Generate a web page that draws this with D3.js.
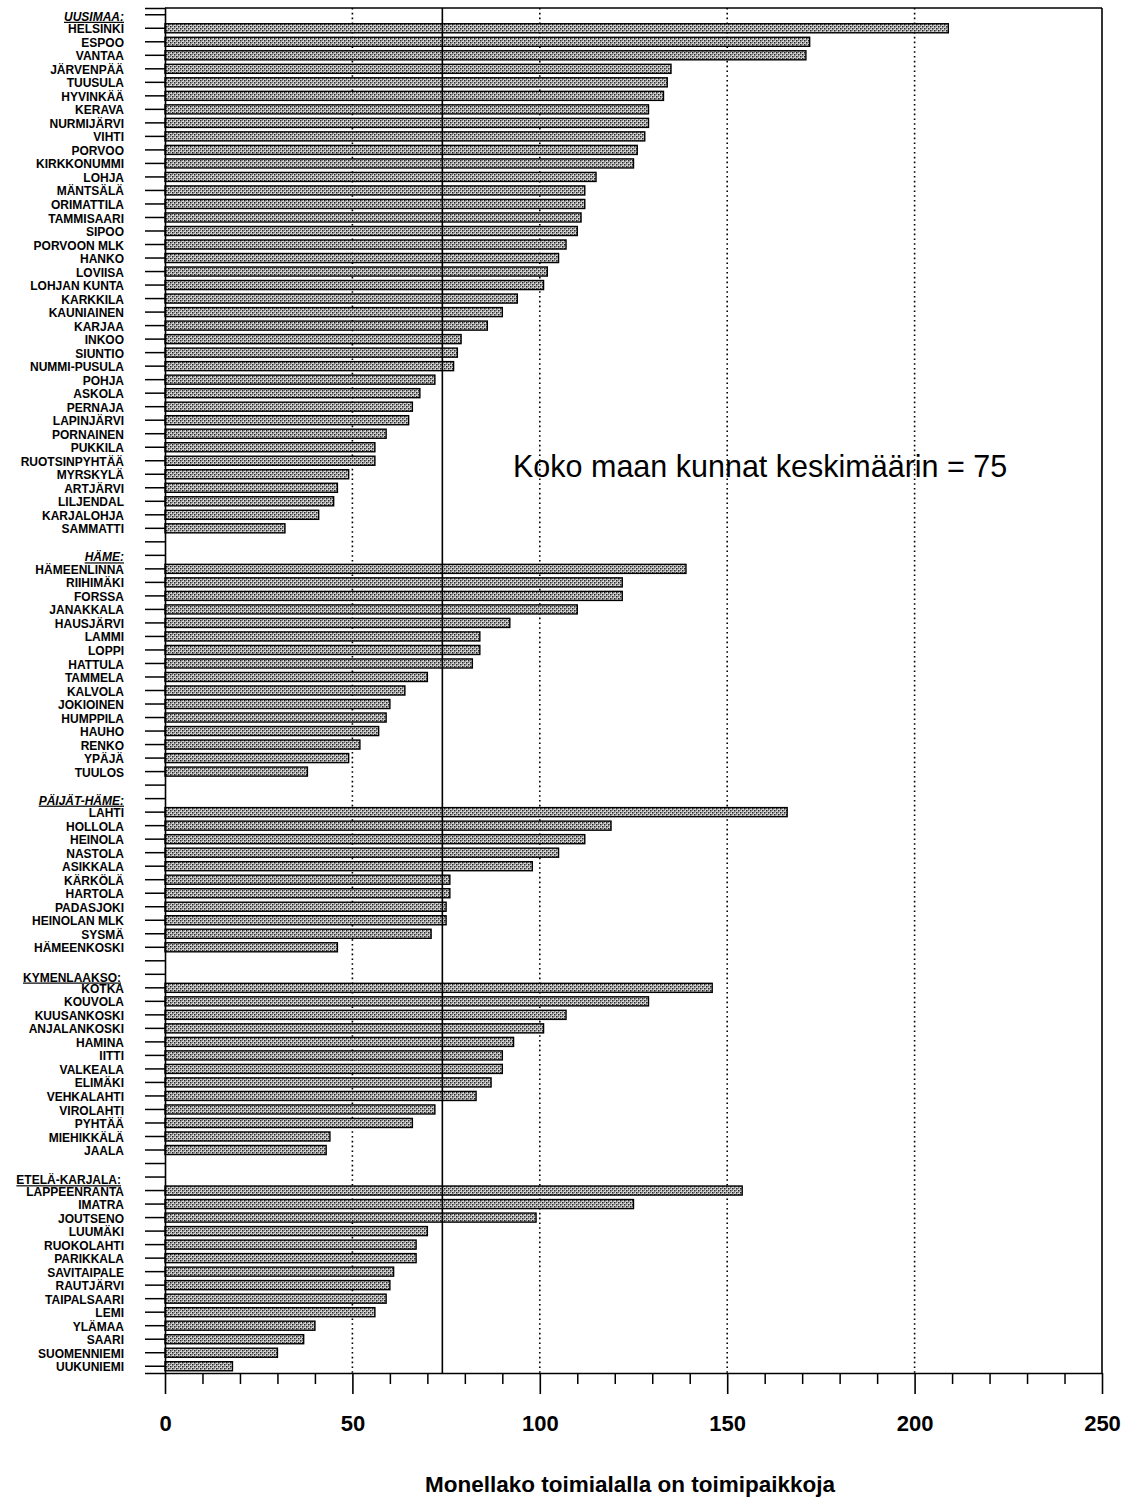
<!DOCTYPE html>
<html>
<head>
<meta charset="utf-8">
<script src="https://cdn.jsdelivr.net/npm/d3@7"></script>
<style>
  html, body { margin: 0; padding: 0; background: #fff; }
  svg { display: block; }
  text { font-family: "Liberation Sans", Arial, sans-serif; }
</style>
</head>
<body>
<svg id="chart" width="1127" height="1498"></svg>
<script>
// ---- DATA ----
const regionNames = ["UUSIMAA:", "HÄME:", "PÄIJÄT-HÄME:", "KYMENLAAKSO:", "ETELÄ-KARJALA:"];
const regionItalic = [true, true, true, false, false];

const uusimaaNames = ["HELSINKI","ESPOO","VANTAA","JÄRVENPÄÄ","TUUSULA","HYVINKÄÄ","KERAVA","NURMIJÄRVI","VIHTI","PORVOO","KIRKKONUMMI","LOHJA","MÄNTSÄLÄ","ORIMATTILA","TAMMISAARI","SIPOO","PORVOON MLK","HANKO","LOVIISA","LOHJAN KUNTA","KARKKILA","KAUNIAINEN","KARJAA","INKOO","SIUNTIO","NUMMI-PUSULA","POHJA","ASKOLA","PERNAJA","LAPINJÄRVI","PORNAINEN","PUKKILA","RUOTSINPYHTÄÄ","MYRSKYLÄ","ARTJÄRVI","LILJENDAL","KARJALOHJA","SAMMATTI"];
const uusimaaValues = [209,172,171,135,134,133,129,129,128,126,125,115,112,112,111,110,107,105,102,101,94,90,86,79,78,77,72,68,66,65,59,56,56,49,46,45,41,32];

const hameNames = ["HÄMEENLINNA","RIIHIMÄKI","FORSSA","JANAKKALA","HAUSJÄRVI","LAMMI","LOPPI","HATTULA","TAMMELA","KALVOLA","JOKIOINEN","HUMPPILA","HAUHO","RENKO","YPÄJÄ","TUULOS"];
const hameValues = [139,122,122,110,92,84,84,82,70,64,60,59,57,52,49,38];

const paijatNames = ["LAHTI","HOLLOLA","HEINOLA","NASTOLA","ASIKKALA","KÄRKÖLÄ","HARTOLA","PADASJOKI","HEINOLAN MLK","SYSMÄ","HÄMEENKOSKI"];
const paijatValues = [166,119,112,105,98,76,76,75,75,71,46];

const kymenNames = ["KOTKA","KOUVOLA","KUUSANKOSKI","ANJALANKOSKI","HAMINA","IITTI","VALKEALA","ELIMÄKI","VEHKALAHTI","VIROLAHTI","PYHTÄÄ","MIEHIKKÄLÄ","JAALA"];
const kymenValues = [146,129,107,101,93,90,90,87,83,72,66,44,43];

const etelaNames = ["LAPPEENRANTA","IMATRA","JOUTSENO","LUUMÄKI","RUOKOLAHTI","PARIKKALA","SAVITAIPALE","RAUTJÄRVI","TAIPALSAARI","LEMI","YLÄMAA","SAARI","SUOMENNIEMI","UUKUNIEMI"];
const etelaValues = [154,125,99,70,67,67,61,60,59,56,40,37,30,18];

const averageValue = 74;              // position of the solid reference line
const averageText = "Koko maan kunnat keskimäärin = 75";
const gridValues = [50, 100, 150, 200];
const xTickLabels = [0, 50, 100, 150, 200, 250];
const xMinorTicks = [10,20,30,40,60,70,80,90,110,120,130,140,160,170,180,190,210,220,230,240];
const xTitle = "Monellako toimialalla on toimipaikkoja";

// ---- BUILD ROWS ----
const groups = [
  [uusimaaNames, uusimaaValues],
  [hameNames, hameValues],
  [paijatNames, paijatValues],
  [kymenNames, kymenValues],
  [etelaNames, etelaValues]
];
const rows = [];
groups.forEach(([names, vals], gi) => {
  if (gi > 0) rows.push({ type: "blank", label: "", value: null });
  rows.push({ type: "header", label: regionNames[gi], italic: regionItalic[gi], value: null });
  names.forEach((n, i) => rows.push({ type: "item", label: n, value: vals[i] }));
});
rows.forEach((r, i) => r.id = i);

// ---- LAYOUT ----
const svg = d3.select("#chart");
svg.append("rect").attr("width", 1127).attr("height", 1498).attr("fill", "#fff");

const mLeft = 165, mRight = 1102, mTop = 8, mBottom = 1373;

const x = d3.scaleLinear().domain([0, 250]).range([mLeft, mRight]);
const y = d3.scaleBand().domain(rows.map(r => r.id)).range([mTop, mBottom]).paddingInner(0.33).paddingOuter(0.165);

// pattern for bars
const defs = svg.append("defs");
const pat = defs.append("pattern").attr("id", "hatch").attr("patternUnits", "userSpaceOnUse")
  .attr("width", 4).attr("height", 4);
pat.append("rect").attr("width", 4).attr("height", 4).attr("fill", "#d6d6d6");
pat.append("rect").attr("x", 0).attr("y", 0).attr("width", 1.5).attr("height", 1.5).attr("fill", "#222");
pat.append("rect").attr("x", 2).attr("y", 2).attr("width", 1.5).attr("height", 1.5).attr("fill", "#222");
pat.append("rect").attr("x", 2).attr("y", 0).attr("width", 1).attr("height", 1).attr("fill", "#777");
pat.append("rect").attr("x", 0).attr("y", 2).attr("width", 1).attr("height", 1).attr("fill", "#777");

// dotted grid lines
svg.append("g").selectAll("line").data(gridValues).join("line")
  .attr("x1", d => x(d)).attr("x2", d => x(d))
  .attr("y1", mTop).attr("y2", mBottom)
  .attr("stroke", "#000").attr("stroke-width", 1.6)
  .attr("stroke-dasharray", "1.6,3.2");

// bars
svg.append("g").selectAll("rect").data(rows.filter(r => r.type === "item")).join("rect")
  .attr("x", x(0))
  .attr("y", d => y(d.id))
  .attr("width", d => x(d.value) - x(0))
  .attr("height", y.bandwidth())
  .attr("fill", "url(#hatch)")
  .attr("stroke", "#000").attr("stroke-width", 1.4);

// average line
svg.append("line")
  .attr("x1", x(averageValue)).attr("x2", x(averageValue))
  .attr("y1", mTop).attr("y2", mBottom)
  .attr("stroke", "#000").attr("stroke-width", 1.6);

// frame top & right
svg.append("line").attr("x1", mLeft).attr("x2", mRight).attr("y1", mTop).attr("y2", mTop)
  .attr("stroke", "#000").attr("stroke-width", 1.6);
svg.append("line").attr("x1", mRight).attr("x2", mRight).attr("y1", mTop).attr("y2", mBottom)
  .attr("stroke", "#000").attr("stroke-width", 1.6);

// y axis
const yAxis = d3.axisLeft(y).tickSize(20).tickPadding(21)
  .tickFormat(i => rows[i].label);
const gy = svg.append("g").attr("transform", `translate(${mLeft},0)`).call(yAxis);
gy.select(".domain").attr("stroke", "#000").attr("stroke-width", 1.6);
gy.selectAll(".tick line").attr("stroke", "#000").attr("stroke-width", 1.5);
gy.selectAll(".tick text")
  .attr("font-family", "'Liberation Sans', Arial, sans-serif")
  .attr("font-size", 12).attr("font-weight", "bold").attr("fill", "#000")
  .attr("dy", "0.42em")
  .each(function(i) {
    const r = rows[i];
    const t = d3.select(this);
    if (r.type === "header") {
      t.attr("text-decoration", "underline");
      if (r.italic) {
        t.attr("font-style", "italic").attr("dy", "0.5em");
      } else {
        t.attr("dy", "0.6em").attr("x", -44);
      }
    }
  });

// x axis minor ticks
const gxMinor = svg.append("g").attr("transform", `translate(0,${mBottom})`)
  .call(d3.axisBottom(x).tickValues(xMinorTicks).tickSize(11).tickFormat(""));
gxMinor.select(".domain").remove();
gxMinor.selectAll(".tick line").attr("stroke", "#000").attr("stroke-width", 1.5);

// x axis major
const gx = svg.append("g").attr("transform", `translate(0,${mBottom})`)
  .call(d3.axisBottom(x).tickValues(xTickLabels).tickSize(21).tickPadding(21).tickSizeOuter(0).tickFormat(d3.format("d")));
gx.select(".domain").attr("stroke", "#000").attr("stroke-width", 1.6);
gx.selectAll(".tick line").attr("stroke", "#000").attr("stroke-width", 1.6);
gx.selectAll(".tick text")
  .attr("font-family", "'Liberation Sans', Arial, sans-serif")
  .attr("font-size", 22).attr("font-weight", "bold").attr("fill", "#000");

// x title
svg.append("text")
  .attr("x", 630).attr("y", 1492)
  .attr("text-anchor", "middle")
  .attr("font-size", 22.5).attr("font-weight", "bold")
  .text(xTitle);

// average annotation
svg.append("text")
  .attr("x", 513).attr("y", 477)
  .attr("font-size", 30.5)
  .text(averageText);
</script>
</body>
</html>
